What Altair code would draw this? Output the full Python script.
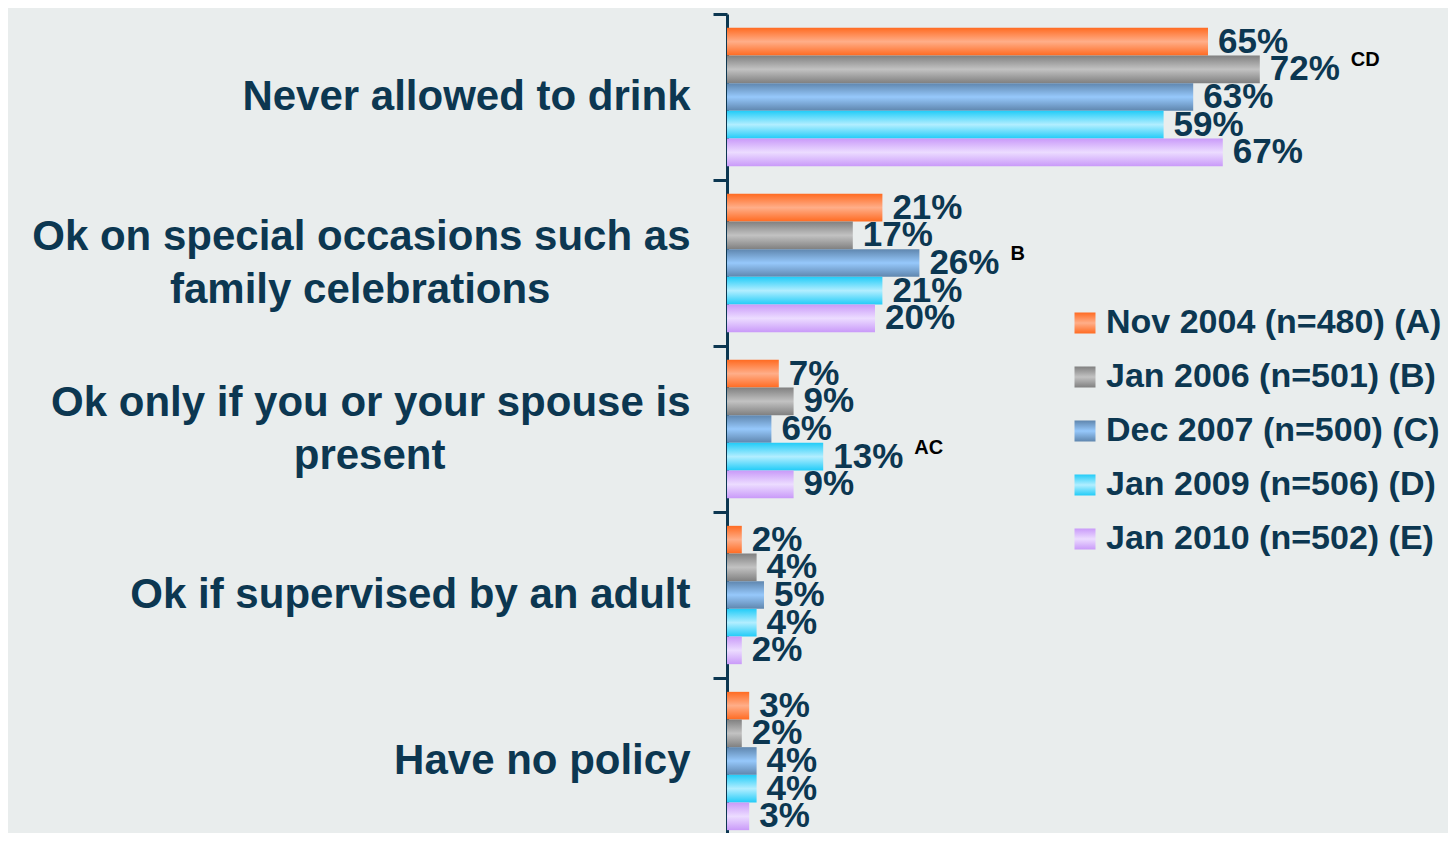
import altair as alt
import pandas as pd

categories = [
    "Never allowed to drink",
    "Ok on special occasions such as\nfamily celebrations",
    "Ok only if you or your spouse is\npresent",
    "Ok if supervised by an adult",
    "Have no policy",
]
series = [
    "Nov 2004 (n=480) (A)",
    "Jan 2006 (n=501) (B)",
    "Dec 2007 (n=500) (C)",
    "Jan 2009 (n=506) (D)",
    "Jan 2010 (n=502) (E)",
]
vals_a = [65, 21, 7, 2, 3]
vals_b = [72, 17, 9, 4, 2]
vals_c = [63, 26, 6, 5, 4]
vals_d = [59, 21, 13, 4, 4]
vals_e = [67, 20, 9, 2, 3]
notes_a = ["", "", "", "", ""]
notes_b = ["CD", "", "", "", ""]
notes_c = ["", "B", "", "", ""]
notes_d = ["", "", "AC", "", ""]
notes_e = ["", "", "", "", ""]

edge_colors = ["#ff6b22", "#808080", "#5f86ae", "#22ccf8", "#c99af9"]
mid_colors = ["#ffae89", "#c2c2c2", "#96c8fb", "#b2eeff", "#ecdcff"]

# approximate bold sans advance widths (per 1000 em), used to centre the
# second line of a wrapped label under the first (axis labels are right-aligned)
_W = {" ": 278, "a": 556, "b": 611, "c": 556, "d": 611, "e": 556, "f": 333,
      "g": 611, "h": 611, "i": 278, "j": 278, "k": 556, "l": 278, "m": 889,
      "n": 611, "o": 611, "p": 611, "q": 611, "r": 389, "s": 556, "t": 333,
      "u": 611, "v": 556, "w": 778, "x": 556, "y": 556, "z": 500}


def _width(s):
    return sum(_W.get(ch, 722) for ch in s)


def centre_lines(label):
    lines = label.split("\n")
    if len(lines) == 1:
        return label
    first, second = lines
    n = round((_width(first) - _width(second)) / 2 / 278)
    # trailing no-break spaces, closed by a zero-width space so they are not trimmed
    return first + "\n" + second + "\u00a0" * max(n, 0) + "\u200b"


display = [centre_lines(c) for c in categories]

rows = []
for s, vals, notes in zip(series,
                          [vals_a, vals_b, vals_c, vals_d, vals_e],
                          [notes_a, notes_b, notes_c, notes_d, notes_e]):
    for c, v, n in zip(display, vals, notes):
        rows.append({"category": c, "series": s, "value": v, "note": n})
df = pd.DataFrame(rows)


def grad(edge, mid):
    return {"expr": "{gradient:'linear',x1:0,y1:0,x2:0,y2:1,stops:["
                    "{offset:0,color:'%s'},{offset:0.5,color:'%s'},{offset:1,color:'%s'}]}"
                    % (edge, mid, edge)}


TEXT = "#0c3751"
FONT = "Liberation Sans"

y_scale = alt.Scale(paddingInner=0, paddingOuter=0, range=[0, 830])
y_enc = alt.Y("category:N", sort=display, scale=y_scale,
              axis=alt.Axis(title=None, domainColor=TEXT, domainWidth=3,
                            tickColor=TEXT, tickWidth=3, tickSize=14,
                            bandPosition=0, labelFont=FONT, labelFontSize=42,
                            labelFontWeight="bold", labelColor=TEXT,
                            labelPadding=23, labelLineHeight=53,
                            labelBaseline="middle", labelLimit=0,
                            labelOffset={"condition": {"test": "indexof(datum.value, '\\n') >= 0",
                                                       "value": -26},
                                         "value": 0},
                            labelExpr="split(datum.label, '\\n')"))
yoff = alt.YOffset("series:N", sort=series,
                   scale=alt.Scale(paddingInner=0, paddingOuter=0.5))
x_enc = alt.X("value:Q", scale=alt.Scale(domain=[0, 100], range=[0, 740]), axis=None)

base = alt.Chart(df)

bars = base.mark_bar().encode(
    y=y_enc, yOffset=yoff, x=x_enc,
    color=alt.Color("series:N",
                    scale=alt.Scale(domain=series,
                                    range=[grad(e, m) for e, m in zip(edge_colors, mid_colors)]),
                    legend=alt.Legend(title=None, orient="none", legendX=341, legendY=292,
                                      symbolType="square", symbolSize=441,
                                      symbolStrokeWidth=0,
                                      labelFont=FONT, labelFontSize=34,
                                      labelFontWeight="bold", labelColor=TEXT,
                                      labelOffset=4, rowPadding=20, padding=0,
                                      labelLimit=0)),
)

labels = base.mark_text(align="left", baseline="middle", dx=10, dy=0,
                        font=FONT, fontSize=35, fontWeight="bold",
                        color=TEXT).transform_calculate(
    label="datum.value + '%'").encode(
    y=alt.Y("category:N", sort=display), yOffset=yoff, x=x_enc,
    text="label:N")

sup = base.mark_text(align="left", baseline="middle", dx=91, dy=-9,
                     font=FONT, fontSize=20, fontWeight="bold",
                     color="#000000").transform_filter(
    "datum.note != ''").encode(
    y=alt.Y("category:N", sort=display), yOffset=yoff, x=x_enc,
    text="note:N")

chart = alt.layer(bars, labels, sup).properties(
    width=721, height=819, background="#e9eded",
    autosize=alt.AutoSizeParams(type="none"),
    padding={"left": 719, "top": 6, "right": 0, "bottom": 0},
).configure_view(stroke=None).configure_axis(grid=False)

chart.save("out.html", embed_options={"renderer": "svg", "actions": False})
